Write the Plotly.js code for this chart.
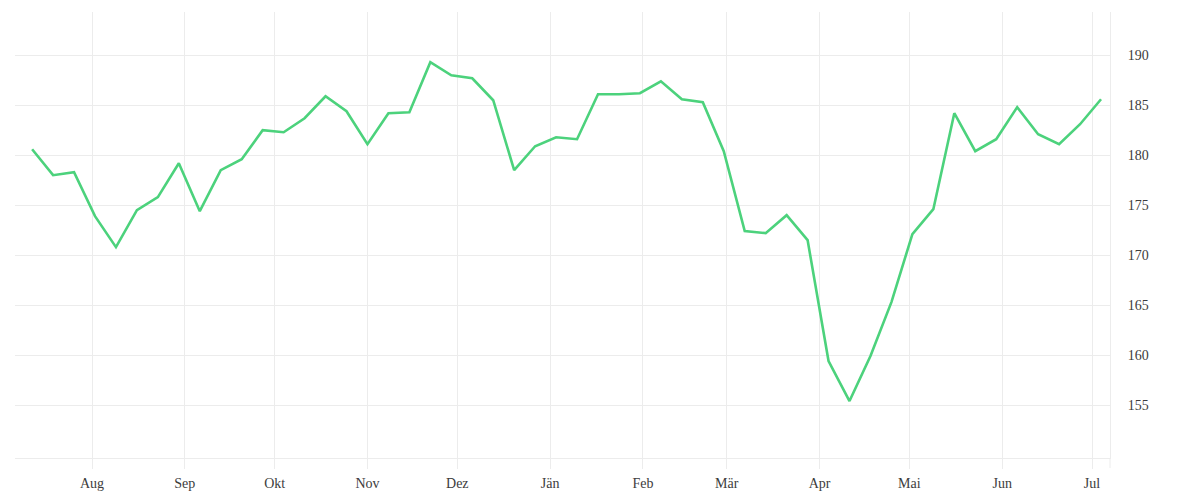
<!DOCTYPE html>
<html>
<head>
<meta charset="utf-8">
<script src="https://cdn.plot.ly/plotly-3.0.1.min.js"></script>
<style>html,body{margin:0;padding:0;background:#fff;}#chart{width:1200px;height:500px;}</style>
</head>
<body>
<div id="chart"></div>
<script>
// Weekly dates (Fridays)
const dates = [
  "2024-07-12","2024-07-19","2024-07-26","2024-08-02","2024-08-09","2024-08-16","2024-08-23","2024-08-30",
  "2024-09-06","2024-09-13","2024-09-20","2024-09-27","2024-10-04","2024-10-11","2024-10-18","2024-10-25",
  "2024-11-01","2024-11-08","2024-11-15","2024-11-22","2024-11-29","2024-12-06","2024-12-13","2024-12-20",
  "2024-12-27","2025-01-03","2025-01-10","2025-01-17","2025-01-24","2025-01-31","2025-02-07","2025-02-14",
  "2025-02-21","2025-02-28","2025-03-07","2025-03-14","2025-03-21","2025-03-28","2025-04-04","2025-04-11",
  "2025-04-18","2025-04-25","2025-05-02","2025-05-09","2025-05-16","2025-05-23","2025-05-30","2025-06-06",
  "2025-06-13","2025-06-20","2025-06-27","2025-07-04"
];
const values = [
  180.6, 178.0, 178.3, 173.9, 170.8, 174.5, 175.8, 179.2,
  174.4, 178.5, 179.6, 182.5, 182.3, 183.7, 185.9, 184.4,
  181.1, 184.2, 184.3, 189.3, 188.0, 187.7, 185.5, 178.5,
  180.9, 181.8, 181.6, 186.1, 186.1, 186.2, 187.4, 185.6,
  185.3, 180.4, 172.4, 172.2, 174.0, 171.5, 159.4, 155.4,
  159.9, 165.3, 172.1, 174.6, 184.2, 180.4, 181.6, 184.8,
  182.1, 181.1, 183.1, 185.6
];
const monthTicks = ["2024-08-01","2024-09-01","2024-10-01","2024-11-01","2024-12-01","2025-01-01",
  "2025-02-01","2025-03-01","2025-04-01","2025-05-01","2025-06-01","2025-07-01"];
const monthLabels = ["Aug","Sep","Okt","Nov","Dez","Jän","Feb","Mär","Apr","Mai","Jun","Jul"];
const yTicks = [155, 160, 165, 170, 175, 180, 185, 190];

const grid = "#ececec";
const fontFam = "'Liberation Serif', 'DejaVu Serif', serif";

Plotly.newPlot("chart", [{
  x: dates,
  y: values,
  type: "scatter",
  mode: "lines",
  line: {color: "#4cd27c", width: 2.6},
  hoverinfo: "x+y"
}], {
  width: 1200,
  height: 500,
  margin: {l: 15, r: 90, t: 12, b: 42},
  paper_bgcolor: "#fff",
  plot_bgcolor: "#fff",
  showlegend: false,
  font: {family: fontFam, size: 14, color: "#3c3c3c"},
  xaxis: {
    type: "date",
    range: ["2024-07-06 06:45", "2025-07-07 00:00"],
    tickvals: monthTicks,
    ticktext: monthLabels,
    showgrid: true,
    gridcolor: grid,
    gridwidth: 1,
    ticks: "outside",
    ticklen: 10,
    tickcolor: grid,
    ticklabelstandoff: 2,
    showline: true,
    linecolor: grid,
    linewidth: 1,
    zeroline: false,
    fixedrange: true
  },
  yaxis: {
    side: "right",
    range: [149.7, 194.33],
    tickvals: yTicks,
    ticktext: yTicks.map(String),
    showgrid: true,
    gridcolor: grid,
    gridwidth: 1,
    ticks: "outside",
    ticklen: 14,
    tickcolor: "rgba(0,0,0,0)",
    showline: true,
    linecolor: grid,
    linewidth: 1,
    zeroline: false,
    fixedrange: true
  },
  shapes: [{
    type: "line",
    xref: "paper", yref: "paper",
    x0: 1, x1: 1,
    ysizemode: "pixel", yanchor: 0,
    y0: 0, y1: -10,
    line: {color: grid, width: 1}
  }]
}, {displayModeBar: false, staticPlot: true});
</script>
</body>
</html>
